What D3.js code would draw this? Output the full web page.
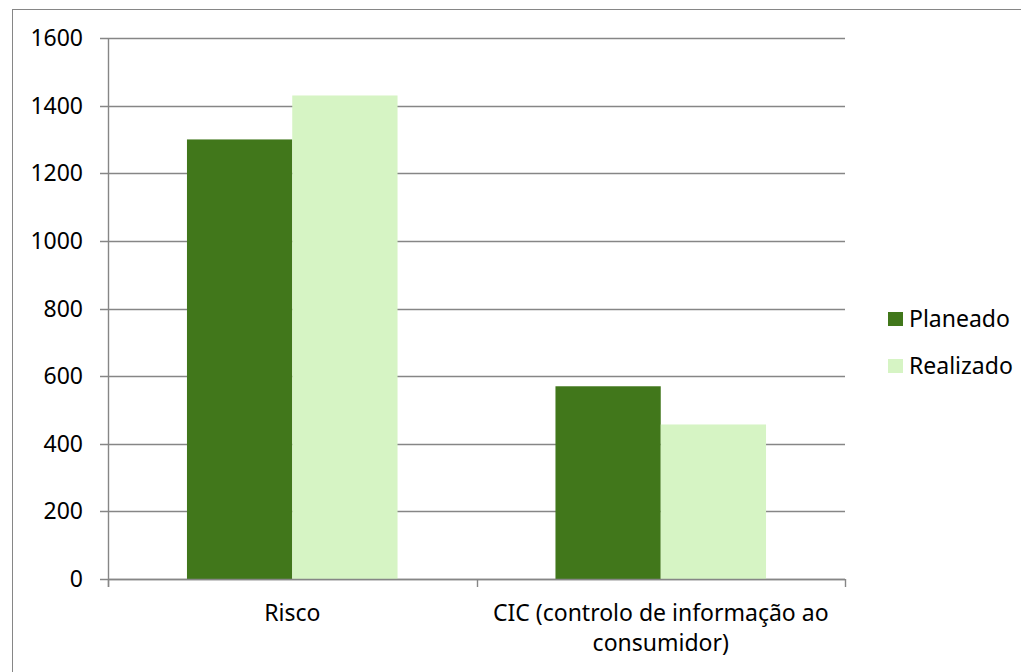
<!DOCTYPE html>
<html>
<head>
<meta charset="utf-8">
<script src="https://cdn.jsdelivr.net/npm/d3@7"></script>
<style>
  body { margin: 0; background: #fff; }
  text { font-family: "Noto Sans", "Open Sans", sans-serif; fill: #000; }
</style>
</head>
<body>
<div id="chart"></div>
<script>
// data
const categories = ["Risco", "CIC (controlo de informação ao consumidor)"];
const categoryLines = [["Risco"], ["CIC (controlo de informação ao", "consumidor)"]];
const seriesNames = ["Planeado", "Realizado"];
const planeado = [1300, 570];
const realizado = [1430, 457];
const yTicks = [0, 200, 400, 600, 800, 1000, 1200, 1400, 1600];

const colors = ["#41771B", "#D6F4C4"];
const gridColor = "#868686";
const fontSize = "23px";

const width = 1021, height = 672;
const margin = {top: 38, right: 176, bottom: 93, left: 108};
const plotW = width - margin.left - margin.right;
const plotH = height - margin.top - margin.bottom;

const svg = d3.select("#chart").append("svg")
    .attr("width", width)
    .attr("height", height);

// outer chart border
svg.append("rect")
    .attr("x", 12.5).attr("y", 9.5)
    .attr("width", width + 10).attr("height", height + 10)
    .attr("fill", "none")
    .attr("stroke", gridColor)
    .attr("stroke-width", 1);

const g = svg.append("g")
    .attr("transform", "translate(" + margin.left + "," + margin.top + ")");

const x = d3.scaleBand().domain(categories).range([0, plotW]);
// gap width 150% -> 2 bars take 2/3.5 of the band
const x1 = d3.scaleBand().domain(seriesNames)
    .range([x.bandwidth() * 0.75 / 3.5, x.bandwidth() * (0.75 + 2) / 3.5]);
const y = d3.scaleLinear().domain([0, 1600]).range([plotH, 0]);

// gridlines
g.append("g")
    .selectAll("line")
    .data(yTicks)
    .enter()
    .append("line")
        .attr("x1", -8).attr("x2", plotW)
        .attr("y1", d => Math.round(y(d)) + 0.5)
        .attr("y2", d => Math.round(y(d)) + 0.5)
        .attr("stroke", gridColor)
        .attr("stroke-width", 1.4);

// y tick labels
g.append("g")
    .selectAll("text")
    .data(yTicks)
    .enter()
    .append("text")
        .attr("x", -25)
        .attr("y", d => y(d))
        .attr("dy", "0.35em")
        .attr("text-anchor", "end")
        .style("font-size", fontSize)
        .text(d => d);

// bars
const rows = categories.map((c, i) => ({cat: c, values: [planeado[i], realizado[i]]}));
const groups = g.selectAll(".cat")
    .data(rows)
    .enter()
    .append("g")
        .attr("transform", d => "translate(" + x(d.cat) + ",0)");

groups.selectAll("rect")
    .data(d => d.values.map((v, j) => ({name: seriesNames[j], value: v, j: j})))
    .enter()
    .append("rect")
        .attr("x", d => x1(d.name))
        .attr("width", x1.bandwidth())
        .attr("y", d => y(d.value))
        .attr("height", d => plotH - y(d.value))
        .attr("fill", d => colors[d.j]);

// y axis line
g.append("line")
    .attr("x1", 0.5).attr("x2", 0.5)
    .attr("y1", 0).attr("y2", plotH + 8)
    .attr("stroke", gridColor)
    .attr("stroke-width", 1.4);

// x axis line + category ticks
g.append("line")
    .attr("x1", 0).attr("x2", plotW)
    .attr("y1", plotH + 0.5).attr("y2", plotH + 0.5)
    .attr("stroke", gridColor)
    .attr("stroke-width", 1.4);

const tickXs = categories.map(c => x(c)).concat([plotW]);
g.append("g")
    .selectAll("line")
    .data(tickXs)
    .enter()
    .append("line")
        .attr("x1", d => Math.round(d) + 0.5).attr("x2", d => Math.round(d) + 0.5)
        .attr("y1", plotH).attr("y2", plotH + 8)
        .attr("stroke", gridColor)
        .attr("stroke-width", 1.4);

// category labels
const labels = g.append("g")
    .selectAll("text")
    .data(categories)
    .enter()
    .append("text")
        .attr("x", d => x(d) + x.bandwidth() / 2)
        .attr("y", plotH + 42)
        .attr("text-anchor", "middle")
        .style("font-size", fontSize);

labels.each(function(d, i) {
    const t = d3.select(this);
    categoryLines[i].forEach((line, k) => {
        t.append("tspan")
            .attr("x", x(d) + x.bandwidth() / 2)
            .attr("dy", k === 0 ? 0 : 30)
            .text(line);
    });
});

// legend
const legend = svg.append("g")
    .attr("transform", "translate(888,312)");

const items = legend.selectAll("g")
    .data(seriesNames)
    .enter()
    .append("g")
        .attr("transform", (d, i) => "translate(0," + (i * 47) + ")");

items.append("rect")
    .attr("width", 15).attr("height", 14)
    .attr("fill", (d, i) => colors[i]);

items.append("text")
    .attr("x", 21)
    .attr("y", 7)
    .attr("dy", "0.35em")
    .style("font-size", fontSize)
    .text(d => d);
</script>
</body>
</html>
